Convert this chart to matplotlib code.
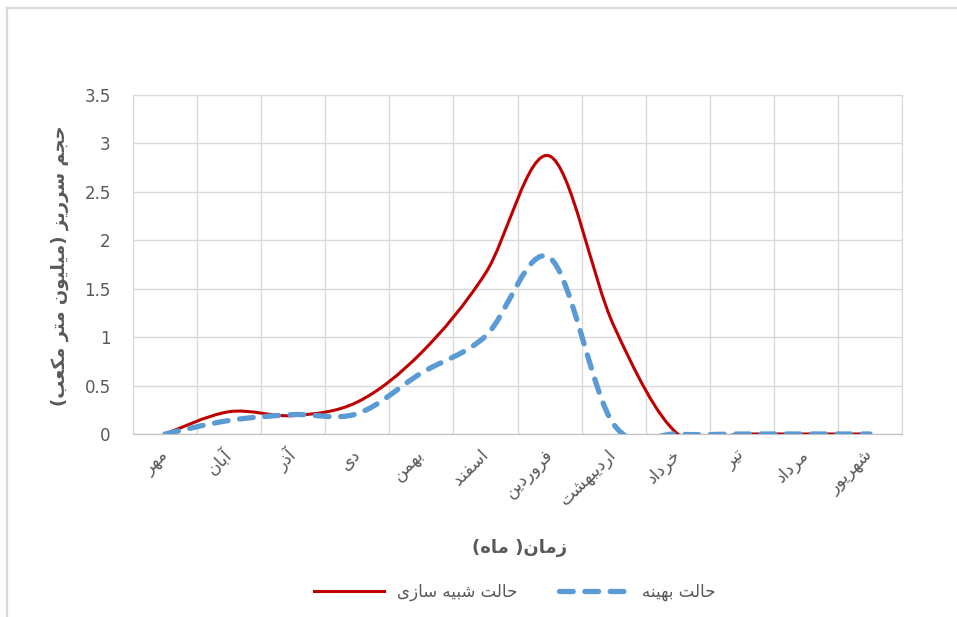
import matplotlib
matplotlib.use('Agg')
import matplotlib.pyplot as plt
from matplotlib.path import Path
from matplotlib.patches import PathPatch
from matplotlib.lines import Line2D

# chart data
months = ['مهر', 'آبان', 'آذر', 'دی', 'بهمن', 'اسفند', 'فروردین',
          'اردیبهشت', 'خرداد', 'تیر', 'مرداد', 'شهریور']
simulated = [0, 0.23, 0.19, 0.33, 0.84, 1.66, 2.87, 1.12, 0, 0, 0, 0]
optimal = [0, 0.14, 0.20, 0.21, 0.63, 1.01, 1.82, 0.10, 0, 0, 0, 0]
y_ticks = [0, 0.5, 1, 1.5, 2, 2.5, 3, 3.5]
y_tick_labels = ['0', '0.5', '1', '1.5', '2', '2.5', '3', '3.5']
sim_label = 'حالت شبیه سازی'
opt_label = 'حالت بهینه'
x_title = 'زمان( ماه)'
y_title = 'حجم سرریز (میلیون متر مکعب)'

# presentation forms: isolated, final, initial, medial
FORMS = {
    'ا': ('\uFE8D', '\uFE8E', None, None),
    'آ': ('\uFE81', '\uFE82', None, None),
    'ب': ('\uFE8F', '\uFE90', '\uFE91', '\uFE92'),
    'ت': ('\uFE95', '\uFE96', '\uFE97', '\uFE98'),
    'ج': ('\uFE9D', '\uFE9E', '\uFE9F', '\uFEA0'),
    'ح': ('\uFEA1', '\uFEA2', '\uFEA3', '\uFEA4'),
    'خ': ('\uFEA5', '\uFEA6', '\uFEA7', '\uFEA8'),
    'د': ('\uFEA9', '\uFEAA', None, None),
    'ذ': ('\uFEAB', '\uFEAC', None, None),
    'ر': ('\uFEAD', '\uFEAE', None, None),
    'ز': ('\uFEAF', '\uFEB0', None, None),
    'س': ('\uFEB1', '\uFEB2', '\uFEB3', '\uFEB4'),
    'ش': ('\uFEB5', '\uFEB6', '\uFEB7', '\uFEB8'),
    'ع': ('\uFEC9', '\uFECA', '\uFECB', '\uFECC'),
    'ف': ('\uFED1', '\uFED2', '\uFED3', '\uFED4'),
    'ل': ('\uFEDD', '\uFEDE', '\uFEDF', '\uFEE0'),
    'م': ('\uFEE1', '\uFEE2', '\uFEE3', '\uFEE4'),
    'ن': ('\uFEE5', '\uFEE6', '\uFEE7', '\uFEE8'),
    'ه': ('\uFEE9', '\uFEEA', '\uFEEB', '\uFEEC'),
    'و': ('\uFEED', '\uFEEE', None, None),
    'ک': ('\uFB8E', '\uFB8F', '\uFB90', '\uFB91'),
    'ی': ('\uFBFC', '\uFBFD', '\uFBFE', '\uFBFF'),
}


def shape(text):
    # join letters and put them in visual (left to right) order
    out = []
    for i, c in enumerate(text):
        if c not in FORMS:
            out.append(c)
            continue
        iso, fin, ini, med = FORMS[c]
        prev = text[i - 1] if i > 0 else ''
        nxt = text[i + 1] if i + 1 < len(text) else ''
        join_prev = prev in FORMS and FORMS[prev][2] is not None
        join_next = ini is not None and nxt in FORMS
        if join_prev and join_next:
            out.append(med)
        elif join_prev:
            out.append(fin)
        elif join_next:
            out.append(ini)
        else:
            out.append(iso)
    mirror = {'(': ')', ')': '('}
    return ''.join(mirror.get(c, c) for c in reversed(out))


def smooth_path(ys):
    # Excel-like smoothed line as cubic bezier segments
    pts = list(zip(range(len(ys)), ys))
    verts = [pts[0]]
    codes = [Path.MOVETO]
    n = len(pts)
    for i in range(n - 1):
        p0, p1 = pts[max(i - 1, 0)], pts[i]
        p2, p3 = pts[i + 1], pts[min(i + 2, n - 1)]
        c1 = (p1[0] + (p2[0] - p0[0]) / 6, p1[1] + (p2[1] - p0[1]) / 6)
        c2 = (p2[0] - (p3[0] - p1[0]) / 6, p2[1] - (p3[1] - p1[1]) / 6)
        verts += [c1, c2, p2]
        codes += [Path.CURVE4] * 3
    return Path(verts, codes)


plt.rcParams['font.family'] = ['DejaVu Sans']
text_color = '#595959'
grid_color = '#d9d9d9'
red = '#C00000'
blue = '#5B9BD5'

fig = plt.figure(figsize=(9.57, 6.17), dpi=100)
ax = fig.add_axes([0.139, 0.2966, 0.8036, 0.5494])

red_patch = PathPatch(smooth_path(simulated), fill=False, edgecolor=red,
                      linewidth=2.2, capstyle='round', joinstyle='round', zorder=3)
ax.add_patch(red_patch)
blue_patch = PathPatch(smooth_path(optimal), fill=False, edgecolor=blue,
                       linewidth=3.8, linestyle=(0, (2.6, 2.2)),
                       capstyle='round', joinstyle='round', zorder=4)
ax.add_patch(blue_patch)

ax.set_xlim(-0.5, len(months) - 0.5)
ax.set_ylim(0, 3.5)
ax.set_yticks(y_ticks)
ax.set_yticklabels(y_tick_labels)
ax.set_xticks(range(len(months)))
ax.set_xticklabels([shape(m) for m in months], rotation=45, ha='right',
                   va='center', rotation_mode='anchor')
ax.set_xticks([k - 0.5 for k in range(len(months) + 1)], minor=True)
ax.tick_params(axis='y', length=0, pad=16, labelsize=12, labelcolor=text_color)
ax.tick_params(axis='x', which='major', length=0, pad=13, labelsize=12.5,
               labelcolor=text_color)
ax.tick_params(axis='x', which='minor', length=0)
ax.grid(axis='y', which='major', color=grid_color, linewidth=1)
ax.grid(axis='x', which='minor', color=grid_color, linewidth=1)
ax.set_axisbelow(True)
for side in ['top', 'right', 'left']:
    ax.spines[side].set_color(grid_color)
ax.spines['bottom'].set_color('#bfbfbf')

fig.text(0.543, 0.112, shape(x_title), ha='center', va='center',
         fontsize=13, fontweight='bold', color=text_color)
fig.text(0.063, 0.57, shape(y_title), ha='center', va='center', rotation=90,
         fontsize=13, fontweight='bold', color=text_color)

handles = [Line2D([], [], color=red, linewidth=2.2),
           Line2D([], [], color=blue, linewidth=3.8, linestyle=(0, (2.6, 2.2)),
                  dash_capstyle='round')]
fig.legend(handles, [shape(sim_label), shape(opt_label)], ncol=2,
           loc='center', bbox_to_anchor=(0.538, 0.04), frameon=False,
           fontsize=12, labelcolor=text_color, handlelength=4.2,
           columnspacing=2.5)

# chart area border (only top and left edges are inside the picture)
fig.add_artist(Line2D([0.007, 1.0], [0.987, 0.987], transform=fig.transFigure,
                      color=grid_color, linewidth=1.6))
fig.add_artist(Line2D([0.007, 0.007], [0.0, 0.987], transform=fig.transFigure,
                      color=grid_color, linewidth=1.6))

fig.savefig('out.png', dpi=100)
